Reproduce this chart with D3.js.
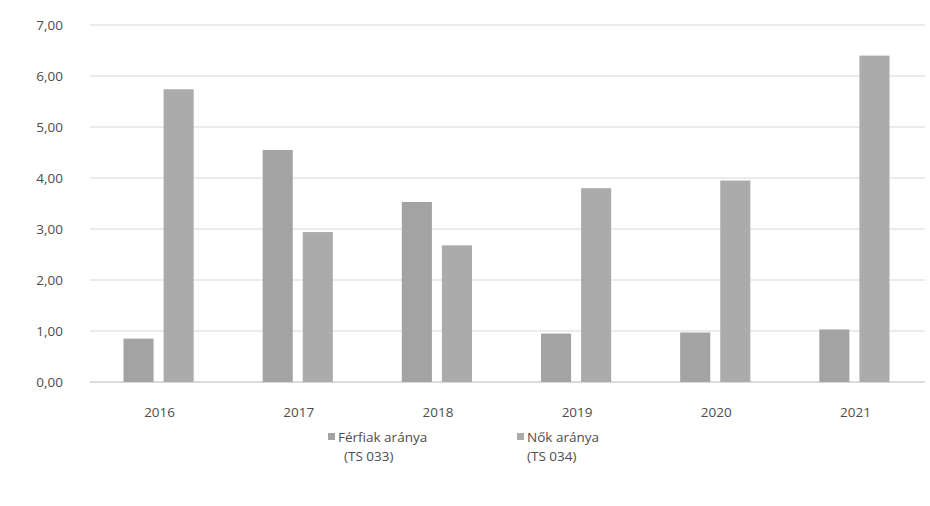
<!DOCTYPE html>
<html><head><meta charset="utf-8">
<script src="https://cdn.jsdelivr.net/npm/d3@7"></script>
<style>body{margin:0;background:#fff}svg{display:block}text{font-family:"Open Sans",sans-serif;fill:#4d4d4d}</style>
</head><body><svg id="c" width="930" height="506"></svg>
<script>
const years = ["2016","2017","2018","2019","2020","2021"];
const men = [0.85, 4.55, 3.53, 0.95, 0.97, 1.03];
const women = [5.74, 2.94, 2.68, 3.8, 3.95, 6.4];
const seriesNames = [["Férfiak aránya","(TS 033)"],["Nők aránya","(TS 034)"]];
const yTicks = [0,1,2,3,4,5,6,7];

const svg = d3.select("#c");
const m = {l:90, r:925, t:25, b:382};
const x = d3.scaleBand().domain(years).range([m.l, m.r]);
const y = d3.scaleLinear().domain([0,7]).range([m.b, m.t]);
const fmt = v => d3.format(".2f")(v).replace(".", ",");

svg.append("g").selectAll("line").data(yTicks).join("line")
  .attr("x1", m.l).attr("x2", m.r).attr("y1", d=>y(d)).attr("y2", d=>y(d))
  .attr("stroke", d=> d===0 ? "#cfcfcf" : "#e4e4e4").attr("stroke-width", 1.5);

const yAxis = svg.append("g").attr("transform", `translate(${m.l-24},0)`)
  .call(d3.axisLeft(y).tickValues(yTicks).tickFormat(fmt).tickSize(0));
yAxis.select(".domain").remove();
yAxis.selectAll("text").attr("font-size", 13.5).attr("fill","#4d4d4d").style("font-family","Open Sans");

const xAxis = svg.append("g").attr("transform", `translate(0,${m.b+22})`)
  .call(d3.axisBottom(x).tickSize(0));
xAxis.select(".domain").remove();
xAxis.selectAll("text").attr("font-size", 13.5).attr("fill","#4d4d4d").style("font-family","Open Sans");

const x1 = d3.scaleBand().domain([0,1]).range([0, x.bandwidth()]).paddingInner(0.25).paddingOuter(0.86);
const colors = ["#a3a3a3","#ababab"];
const data = years.map((yr,i)=>({yr, vals:[men[i], women[i]]}));
svg.append("g").selectAll("g").data(data).join("g")
  .attr("transform", d=>`translate(${x(d.yr)-1},0)`)
  .selectAll("rect").data(d=>d.vals.map((v,k)=>({v,k}))).join("rect")
  .attr("x", d=>x1(d.k)).attr("width", x1.bandwidth())
  .attr("y", d=>y(d.v)).attr("height", d=>y(0)-y(d.v))
  .attr("fill", d=>colors[d.k]);

const leg = svg.append("g");
const legX = [328, 517];
seriesNames.forEach((nm,k)=>{
  const g = leg.append("g").attr("transform", `translate(${legX[k]},0)`);
  g.append("rect").attr("x",0).attr("y",433).attr("width",7).attr("height",7).attr("fill",colors[k]);
  g.append("text").attr("x",10).attr("y",442).attr("font-size",13.5).text(nm[0]);
  g.append("text").attr("x",k===0?16:10).attr("y",461).attr("font-size",13.5).text(nm[1]);
});
</script></body></html>
